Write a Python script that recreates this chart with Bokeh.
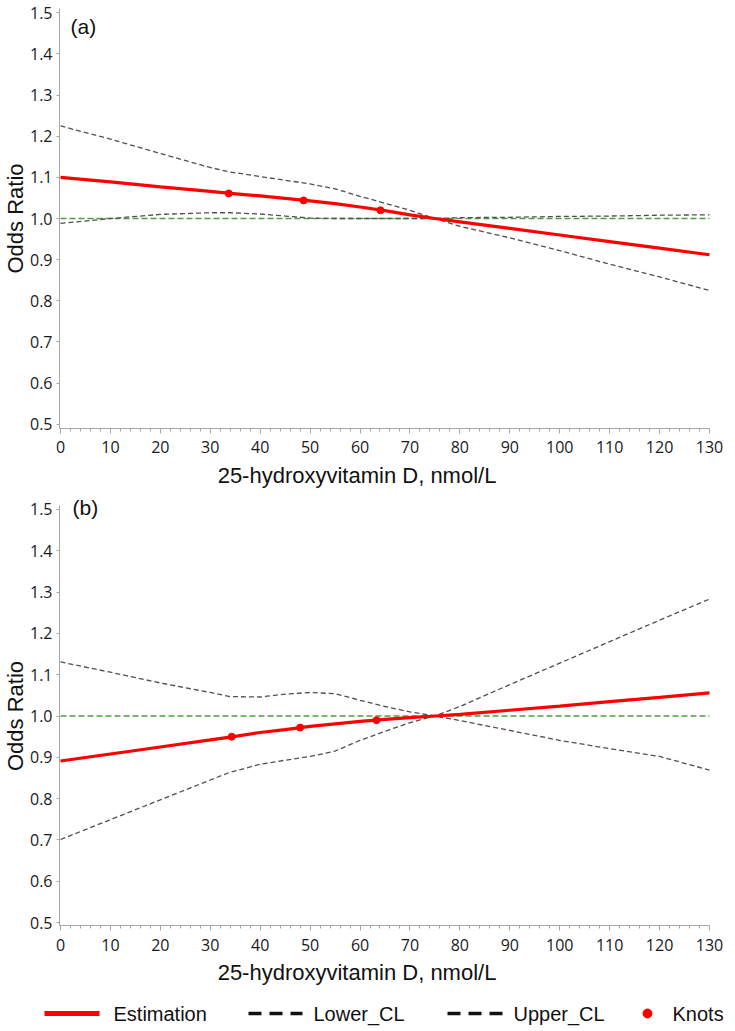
import math
from bokeh.plotting import figure
from bokeh.models import Range1d, FixedTicker, NumeralTickFormatter, Label
from bokeh.layouts import column
from bokeh.embed import file_html
from bokeh.resources import INLINE
from bokeh.core.properties import value

# ---------------- data ----------------
x_grid = [0, 10, 20, 30, 34, 40, 45, 50, 55, 60, 65, 70, 75, 80, 90, 100, 110, 120, 130]

# panel (a)
est_a = [1.100, 1.089, 1.077, 1.066, 1.061, 1.055, 1.049, 1.043, 1.036, 1.028, 1.019, 1.009,
         1.000, 0.992, 0.976, 0.960, 0.944, 0.928, 0.912]
upper_a = [1.225, 1.193, 1.158, 1.124, 1.113, 1.102, 1.093, 1.084, 1.072, 1.054, 1.037, 1.020,
           1.000, 0.981, 0.953, 0.922, 0.889, 0.858, 0.825]
lower_a = [0.988, 1.000, 1.010, 1.014, 1.014, 1.011, 1.006, 1.001, 1.000, 1.000, 1.000, 1.000,
           1.000, 1.002, 1.003, 1.005, 1.006, 1.008, 1.009]
knots_a_x = [33.7, 48.7, 64.1]
knots_a_y = [1.061, 1.044, 1.020]

# panel (b)
est_b = [0.891, 0.908, 0.925, 0.942, 0.949, 0.960, 0.967, 0.975, 0.981, 0.987, 0.992, 0.996,
         1.000, 1.004, 1.014, 1.024, 1.035, 1.045, 1.056]
upper_b = [1.131, 1.106, 1.080, 1.057, 1.047, 1.046, 1.053, 1.057, 1.054, 1.038, 1.023, 1.010,
           1.000, 0.989, 0.965, 0.941, 0.921, 0.902, 0.869]
lower_b = [0.701, 0.749, 0.797, 0.845, 0.864, 0.883, 0.893, 0.902, 0.915, 0.941, 0.963, 0.984,
           1.000, 1.023, 1.076, 1.128, 1.180, 1.232, 1.283]
knots_b_x = [34.3, 48.0, 63.3]
knots_b_y = [0.950, 0.972, 0.990]

ref_value = 1.0
x_ticks = list(range(0, 131, 10))
x_minor = list(range(0, 131, 2))
y_ticks = [0.5, 0.6, 0.7, 0.8, 0.9, 1.0, 1.1, 1.2, 1.3, 1.4, 1.5]

x_title = "25-hydroxyvitamin D, nmol/L"
y_title = "Odds Ratio"
legend_labels = ["Estimation", "Lower_CL", "Upper_CL", "Knots"]

RED = "#ff0000"
GRAY = "#505050"
GREEN = "#4f9e43"
AXIS = "#a8a8a8"
TEXT = "#111111"
TITLE_FONT = "Liberation Sans"
TICK_FONT = "Open Sans"

X_VIEW = (-12.02, 133.61)     # whole figure width is the plotting frame


def make_panel(tag, est, lower, upper, kx, ky, yr, y_axis_pos, y_top, title_y, tag_xy, height):
    p = figure(width=727, height=height,
               x_range=Range1d(*X_VIEW), y_range=Range1d(*yr),
               output_backend="svg", toolbar_location=None, min_border=0)
    p.outline_line_color = None
    p.xgrid.grid_line_color = None
    p.ygrid.grid_line_color = None
    p.background_fill_color = "white"
    p.border_fill_color = "white"

    for ax in (p.xaxis, p.yaxis):
        ax.axis_line_color = AXIS
        ax.major_tick_line_color = AXIS
        ax.minor_tick_line_color = AXIS
        ax.major_label_text_font = TICK_FONT
        ax.major_label_text_font_size = "16px"
        ax.major_label_text_color = "#1a1a1a"
        ax.major_tick_in = 0
        ax.minor_tick_in = 0

    p.xaxis.fixed_location = y_axis_pos
    p.xaxis.bounds = (-0.2, 130)
    p.xaxis.ticker = FixedTicker(ticks=x_ticks, minor_ticks=x_minor)
    p.xaxis.major_tick_out = 5
    p.xaxis.minor_tick_out = 3
    p.xaxis.major_label_standoff = 8

    p.yaxis.fixed_location = -0.2
    p.yaxis.bounds = (y_axis_pos, y_top)
    p.yaxis.ticker = FixedTicker(ticks=y_ticks)
    p.yaxis.formatter = NumeralTickFormatter(format="0.0")
    p.yaxis.major_tick_out = 3
    p.yaxis.minor_tick_line_color = None
    p.yaxis.major_label_standoff = 4

    # reference line OR = 1 across the x-axis extent
    p.segment(x0=[x_ticks[0]], y0=[ref_value], x1=[x_ticks[-1]], y1=[ref_value],
              line_color=GREEN, line_width=1.3, line_dash="6 3")

    p.line(x_grid, upper, line_color=GRAY, line_width=1.3, line_dash="5 3")
    p.line(x_grid, lower, line_color=GRAY, line_width=1.3, line_dash="5 3")
    p.line(x_grid, est, line_color=RED, line_width=3.2)
    p.scatter(kx, ky, size=7, color=RED)

    p.add_layout(Label(x=tag_xy[0], y=tag_xy[1], text=tag, text_font=TITLE_FONT,
                       text_font_size="21px", text_baseline="middle", text_align="left",
                       text_color=TEXT))
    p.add_layout(Label(x=-9.0, y=ref_value, text=y_title, angle=math.pi / 2,
                       text_font=TITLE_FONT, text_font_size="22px",
                       text_align="center", text_baseline="middle", text_color=TEXT))
    p.add_layout(Label(x=59.4, y=title_y, text=x_title,
                       text_font=TITLE_FONT, text_font_size="22px",
                       text_align="center", text_baseline="middle", text_color=TEXT))
    return p


p1 = make_panel("(a)", est_a, lower_a, upper_a, knots_a_x, knots_a_y,
                yr=(0.3389, 1.5299), y_axis_pos=0.4896, y_top=1.5098, title_y=0.3753,
                tag_xy=(2.0, 1.467), height=490)
p2 = make_panel("(b)", est_b, lower_b, upper_b, knots_b_x, knots_b_y,
                yr=(0.316, 1.546), y_axis_pos=0.4927, y_top=1.5097, title_y=0.379,
                tag_xy=(2.4, 1.505), height=508)

# ---------------- legend strip ----------------
lg = figure(width=727, height=30, x_range=Range1d(0, 727), y_range=Range1d(0, 30),
            output_backend="svg", toolbar_location=None, x_axis_type=None, y_axis_type=None,
            min_border=0)
lg.outline_line_color = None
lg.xgrid.grid_line_color = None
lg.ygrid.grid_line_color = None
lg.segment(x0=[44], y0=[15], x1=[99], y1=[15], line_color=RED, line_width=5)
lg.segment(x0=[248, 447], y0=[15, 15], x1=[302, 502], y1=[15, 15],
           line_color="#111111", line_width=3.5, line_dash="13 8")
lg.scatter([647], [15], size=9, color=RED)
lg.text(x=[113, 313, 513, 672], y=[15, 15, 15, 15], text=legend_labels,
        text_font=value(TITLE_FONT), text_font_size="20px", text_baseline="middle",
        text_align="left", text_color=TEXT)

layout = column(p1, p2, lg, spacing=0)
open("out.html", "w").write(file_html(layout, INLINE))
